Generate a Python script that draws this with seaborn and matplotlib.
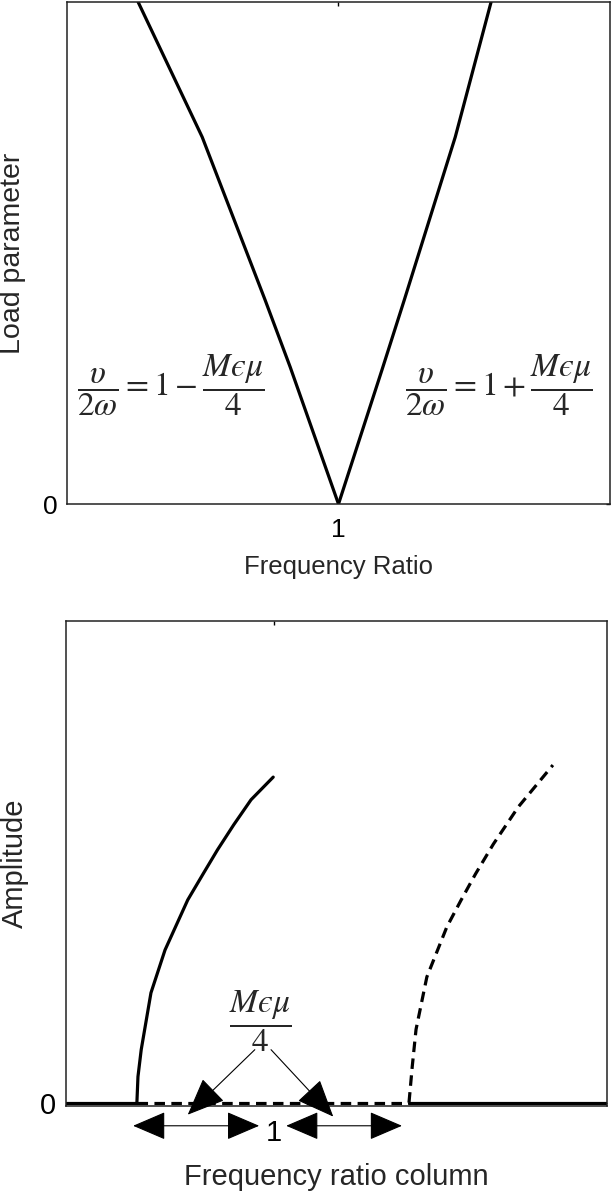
import numpy as np
import pandas as pd
import matplotlib
matplotlib.use("Agg")
import matplotlib.pyplot as plt
import seaborn as sns

# ---- stability boundaries (load parameter vs frequency ratio) ----
left_x = [0.631, 0.749, 0.865, 0.911, 1.000]
left_y = [1.000, 0.731, 0.406, 0.273, 0.000]
right_x = [1.000, 1.080, 1.121, 1.215, 1.281]
right_y = [0.000, 0.267, 0.406, 0.731, 1.000]

# ---- response amplitude branches ----
stable_x = [0.746, 0.748, 0.754, 0.772, 0.798, 0.840, 0.870, 0.895, 0.925, 0.957, 0.998]
stable_y = [0.000, 0.054, 0.110, 0.228, 0.317, 0.421, 0.478, 0.525, 0.577, 0.629, 0.676]
unstable_x = [1.249, 1.255, 1.262, 1.282, 1.319, 1.345, 1.372, 1.405, 1.451, 1.515]
unstable_y = [0.000, 0.075, 0.152, 0.261, 0.365, 0.420, 0.475, 0.537, 0.614, 0.701]

# trivial solution along zero amplitude
trivial_left_x = [0.615, 0.746]
trivial_mid_x = [0.746, 1.249]
trivial_right_x = [1.249, 1.615]
trivial_y = [0.0, 0.0]

x_ticks = [1]
x_tick_labels = ["1"]
y_ticks = [0]
y_tick_labels = ["0"]

eq_minus = "$\\dfrac{\\upsilon}{2\\omega}=1-\\dfrac{M\u03f5\\mu}{4}$"
eq_plus = "$\\dfrac{\\upsilon}{2\\omega}=1+\\dfrac{M\u03f5\\mu}{4}$"
width_label = "$\\dfrac{M\u03f5\\mu}{4}$"

sns.set_style("white")
plt.rcParams["font.family"] = ["Liberation Sans", "DejaVu Sans"]
plt.rcParams["mathtext.fontset"] = "stix"

fig = plt.figure(figsize=(6.13, 11.93), dpi=100)
ax1 = fig.add_axes([0.1093, 0.5775, 0.8858, 0.4208])
ax2 = fig.add_axes([0.1077, 0.0729, 0.8825, 0.4065])

LW = 2.3
DASH = (3.3, 2.0)

def style_axes(ax, tick_size, pad_x, pad_y):
    for s in ax.spines.values():
        s.set_color("#222222")
        s.set_linewidth(1.1)
        s.set_visible(True)
    ax.set_xticks(x_ticks)
    ax.set_xticklabels(x_tick_labels)
    ax.set_yticks(y_ticks)
    ax.set_yticklabels(y_tick_labels)
    ax.tick_params(axis="both", direction="in", length=3, width=1,
                   colors="black", labelsize=tick_size,
                   top=True, right=True)
    ax.tick_params(axis="x", pad=pad_x)
    ax.tick_params(axis="y", pad=pad_y)
    ax.grid(False)

# ---- upper panel ----
sns.lineplot(x=left_x, y=left_y, ax=ax1, color="black", lw=LW, sort=False)
sns.lineplot(x=right_x, y=right_y, ax=ax1, color="black", lw=LW, sort=False)
ax1.set_xlim(0.5, 1.5)
ax1.set_ylim(0, 1)
style_axes(ax1, 19, 10, 7)
ax1.text(0.692, 0.236, eq_minus, fontsize=24, ha="center", va="center")
ax1.text(1.296, 0.236, eq_plus, fontsize=24, ha="center", va="center")
ax1.set_xlabel("Frequency Ratio", fontsize=18.5, va="center")
ax1.xaxis.set_label_coords(0.5, -0.125)
ax1.set_ylabel("Load parameter", fontsize=20.5, va="center")
ax1.yaxis.set_label_coords(-0.099, 0.5)

# ---- lower panel ----
sns.lineplot(x=trivial_left_x, y=trivial_y, ax=ax2, color="black", lw=LW)
sns.lineplot(x=trivial_right_x, y=trivial_y, ax=ax2, color="black", lw=LW)
sns.lineplot(x=trivial_mid_x, y=trivial_y, ax=ax2, color="black",
             lw=LW).lines[-1].set_dashes(DASH)
sns.lineplot(x=stable_x, y=stable_y, ax=ax2, color="black", lw=LW, sort=False)
sns.lineplot(x=unstable_x, y=unstable_y, ax=ax2, color="black",
             lw=LW, sort=False).lines[-1].set_dashes(DASH)
ax2.set_xlim(0.615, 1.615)
ax2.set_ylim(-0.007, 1)
style_axes(ax2, 21, 9, 7)
ax2.set_xlabel("Frequency ratio column", fontsize=21, va="center")
ax2.xaxis.set_label_coords(0.5, -0.146)
ax2.set_ylabel("Amplitude", fontsize=21, va="center")
ax2.yaxis.set_label_coords(-0.095, 0.5)

ax2.text(0.975, 0.168, width_label, fontsize=24, ha="center", va="center")

head = dict(color="black", lw=0.8, shrinkA=0, shrinkB=0, mutation_scale=20)
# pointers from the width label to the zero-amplitude axis
ax2.annotate("", xy=(0.840, -0.025), xytext=(0.964, 0.110),
             arrowprops=dict(arrowstyle="-|>,head_length=1.2,head_width=0.5", **head),
             annotation_clip=False)
ax2.annotate("", xy=(1.109, -0.029), xytext=(0.994, 0.110),
             arrowprops=dict(arrowstyle="-|>,head_length=1.2,head_width=0.5", **head),
             annotation_clip=False)
# double arrows marking the two half-widths
ax2.annotate("", xy=(0.739, -0.048), xytext=(0.972, -0.048),
             arrowprops=dict(arrowstyle="<|-|>,head_length=1.05,head_width=0.45", **head),
             annotation_clip=False)
ax2.annotate("", xy=(1.022, -0.048), xytext=(1.236, -0.048),
             arrowprops=dict(arrowstyle="<|-|>,head_length=1.05,head_width=0.45", **head),
             annotation_clip=False)

fig.savefig("out.png", dpi=100, facecolor="white")
